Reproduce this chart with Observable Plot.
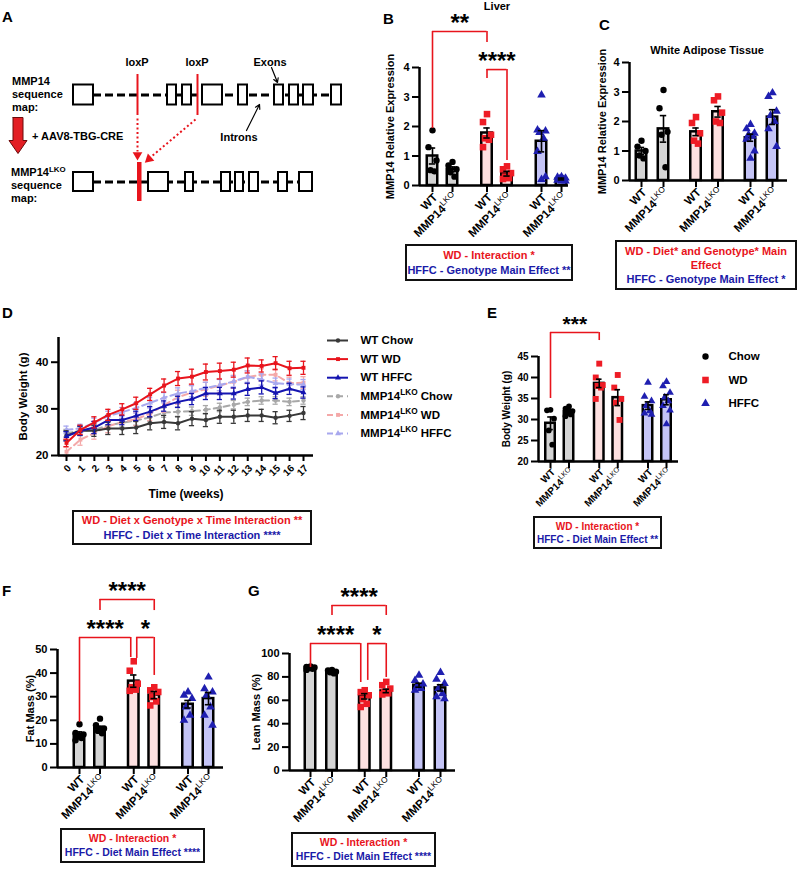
<!DOCTYPE html>
<html><head><meta charset="utf-8">
<script src="https://cdn.jsdelivr.net/npm/d3@7"></script>
<script src="https://cdn.jsdelivr.net/npm/@observablehq/plot@0.6"></script>
<style>
body{margin:0;background:#fff;}
#fig{position:relative;width:800px;height:869px;overflow:hidden;font-family:"Liberation Sans",Arial,sans-serif;font-weight:bold;color:#000;background:#fff;}
#fig svg{position:absolute;left:0;top:0;}
.lbl{position:absolute;white-space:nowrap;line-height:1;}
.box{position:absolute;border:2px solid #111;box-sizing:border-box;text-align:center;white-space:nowrap;}
</style></head><body><div id="fig"></div>
<script>
// ---------------- DATA ----------------
const groups = ["Chow", "WD", "HFFC"];
const genotypes = ["WT", "MMP14LKO"];

// B – Liver MMP14 expression (WT Chow, LKO Chow, WT WD, LKO WD, WT HFFC, LKO HFFC)
const liverMean = [1.00, 0.55, 1.78, 0.40, 1.50, 0.22];
const liverSem = [0.27, 0.08, 0.17, 0.08, 0.36, 0.03];
const liverPoints = [
  [1.87, 1.30, 0.85, 0.52, 0.48],
  [0.80, 0.68, 0.55, 0.45, 0.30],
  [2.42, 2.15, 1.72, 1.60, 1.55, 1.30],
  [0.65, 0.55, 0.42, 0.30, 0.25, 0.22],
  [3.07, 1.88, 1.85, 1.80, 1.60, 1.15, 0.30, 0.20],
  [0.30, 0.28, 0.25, 0.22, 0.20, 0.18, 0.15, 0.15]];
const liverBrackets = [
  {from: 0, to: 2, y: 5.22, yFrom: 1.93, yTo: 4.85, label: "**"},
  {from: 2, to: 3, y: 3.93, yFrom: 3.63, yTo: 0.85, label: "****"}];

// C – White adipose tissue MMP14 expression
const watMean = [1.00, 1.75, 1.65, 2.33, 1.45, 2.15];
const watSem = [0.12, 0.45, 0.13, 0.18, 0.12, 0.25];
const watPoints = [
  [1.35, 1.15, 1.00, 0.85, 0.75],
  [3.07, 2.45, 1.65, 1.55, 0.45],
  [2.15, 1.95, 1.60, 1.35, 1.25],
  [2.85, 2.72, 2.30, 2.00, 1.95],
  [1.90, 1.75, 1.60, 1.55, 1.50, 1.40, 1.00, 0.75],
  [2.97, 2.85, 2.35, 2.20, 2.00, 1.75, 1.15]];
const watBrackets = [];

// D – body weight over time
const weekTicks = [0, 1, 2, 3, 4, 5, 6, 7, 8, 9, 10, 11, 12, 13, 14, 15, 16, 17];
const wtChow = [24.3, 25.3, 25.3, 25.8, 25.8, 26.0, 26.9, 27.2, 26.9, 27.9, 27.6, 28.3, 28.3, 28.6, 28.6, 28.1, 28.5, 29.1];
const wtChowSem = [1.0, 1.0, 1.2, 1.3, 1.3, 1.3, 1.4, 1.4, 1.4, 1.5, 1.4, 1.4, 1.4, 1.3, 1.3, 1.3, 1.2, 1.4];
const wtWD = [22.7, 25.5, 27.1, 28.7, 29.9, 31.2, 33.1, 35.0, 36.5, 36.9, 37.9, 38.1, 38.4, 39.3, 39.2, 39.8, 38.7, 38.8];
const wtWDSem = [0.8, 1.0, 1.2, 1.2, 1.2, 1.3, 1.3, 1.4, 1.5, 1.6, 1.7, 1.7, 1.6, 1.6, 1.3, 1.4, 1.5, 1.4];
const wtHFFC = [24.1, 25.3, 26.0, 27.6, 27.6, 28.5, 29.4, 30.6, 31.5, 32.1, 33.3, 33.3, 33.3, 34.2, 34.6, 33.4, 34.3, 33.5];
const wtHFFCSem = [1.0, 1.0, 1.3, 1.0, 1.0, 1.0, 1.1, 1.1, 1.2, 1.2, 1.3, 1.3, 1.2, 1.3, 1.4, 1.2, 1.2, 1.2];
const lkoChow = [24.8, 25.3, 25.5, 26.5, 27.0, 27.5, 28.2, 29.2, 29.4, 29.5, 29.8, 30.3, 30.9, 31.5, 31.8, 31.8, 31.5, 31.8];
const lkoChowSem = [0.8, 0.8, 0.9, 0.9, 0.9, 1.0, 1.0, 1.0, 1.0, 0.9, 0.9, 0.9, 0.9, 0.8, 0.8, 0.8, 0.8, 0.8];
const lkoWD = [20.8, 23.4, 24.8, 26.3, 27.2, 27.8, 29.0, 30.8, 32.5, 33.5, 34.2, 35.0, 35.8, 36.8, 37.3, 37.3, 35.5, 35.6];
const lkoWDSem = [1.0, 1.2, 1.3, 1.4, 1.4, 1.4, 1.5, 1.5, 1.5, 1.5, 1.5, 1.5, 1.4, 1.4, 1.3, 1.3, 1.3, 1.3];
const lkoHFFC = [25.5, 25.8, 27.0, 28.5, 29.3, 30.2, 31.3, 32.4, 33.3, 33.8, 34.5, 35.1, 35.9, 36.9, 36.3, 35.5, 35.3, 35.2];
const lkoHFFCSem = [0.8, 0.9, 1.0, 1.0, 1.0, 1.1, 1.1, 1.1, 1.2, 1.2, 1.2, 1.2, 1.2, 1.2, 1.2, 1.1, 1.1, 1.1];
const seriesNames = ["WT Chow", "WT WD", "WT HFFC", "MMP14LKO Chow", "MMP14LKO WD", "MMP14LKO HFFC"];
const seriesValues = [wtChow, wtWD, wtHFFC, lkoChow, lkoWD, lkoHFFC];
const seriesSems = [wtChowSem, wtWDSem, wtHFFCSem, lkoChowSem, lkoWDSem, lkoHFFCSem];

// E – final body weight
const bwMean = [29.1, 31.9, 38.6, 35.2, 33.3, 34.7];
const bwSem = [1.5, 0.4, 1.0, 1.9, 0.9, 1.2];
const bwPoints = [
  [32.3, 32.2, 30.2, 27.4, 24.0],
  [33.1, 32.6, 32.0, 31.6, 31.2, 30.8],
  [43.3, 40.0, 38.2, 38.0, 37.6, 34.9],
  [40.6, 37.6, 34.9, 34.0, 29.9],
  [38.8, 35.5, 34.4, 33.3, 32.0, 31.5, 31.2],
  [39.0, 38.0, 36.4, 35.3, 34.4, 33.3, 32.2, 28.9]];
const bwBrackets = [{from: 0, to: 2, y: 50.7, yFrom: 35.0, yTo: 48.8, label: "***"}];

// F – fat mass
const fatMean = [14.1, 16.5, 36.6, 30.7, 26.8, 29.2];
const fatSem = [1.0, 1.0, 2.6, 1.5, 1.6, 2.6];
const fatPoints = [
  [18.3, 14.6, 14.0, 13.0, 12.5, 11.5],
  [20.7, 17.9, 16.5, 15.5, 14.5],
  [45.0, 41.0, 35.5, 34.0, 33.0, 32.5],
  [34.0, 32.7, 32.0, 29.9, 28.0, 26.3],
  [32.0, 30.6, 29.2, 25.6, 22.1, 20.0],
  [38.3, 33.4, 32.0, 30.6, 25.6, 22.1, 17.9]];
const fatBrackets = [
  {from: 1, to: 3, y: 71.2, yFrom: 66.5, yTo: 66.5, label: "****"},
  {from: 0, to: 2, y: 55.1, yFrom: 19.1, yTo: 46.6, label: "****", shiftTo: -3},
  {from: 2, to: 3, y: 55.1, yFrom: 46.2, yTo: 39.0, label: "*", shiftFrom: 3}];

// G – lean mass
const leanMean = [87.7, 84.3, 63.4, 68.0, 72.9, 70.6];
const leanSem = [0.6, 0.6, 2.3, 1.5, 1.7, 2.7];
const leanPoints = [
  [89.0, 88.5, 88.0, 87.5, 87.0, 86.0],
  [86.0, 85.5, 84.5, 84.0, 83.0],
  [68.6, 67.0, 64.3, 61.0, 57.0, 54.3],
  [75.7, 72.9, 70.0, 67.1, 66.0, 65.0],
  [81.4, 77.0, 74.0, 72.0, 70.0, 68.6],
  [83.7, 78.0, 74.3, 70.0, 65.7, 63.0, 61.4]];
const leanBrackets = [
  {from: 1, to: 3, y: 141, yFrom: 132.5, yTo: 132.5, label: "****"},
  {from: 0, to: 2, y: 108.5, yFrom: 88, yTo: 75.2, label: "****", shiftTo: -4},
  {from: 2, to: 3, y: 108.5, yFrom: 77, yTo: 79.5, label: "*", shiftFrom: 3}];

// statistics boxes
const statB = [["WD", "WD - Interaction *"], ["HFFC", "HFFC - Genotype Main Effect **"]];
const statC = [["WD", "WD - Diet* and Genotype* Main"], ["WD", "Effect"], ["HFFC", "HFFC - Genotype Main Effect *"]];
const statD = [["WD", "WD - Diet x Genotype x Time Interaction **"], ["HFFC", "HFFC - Diet x Time Interaction ****"]];
const statE = [["WD", "WD - Interaction *"], ["HFFC", "HFFC - Diet Main Effect **"]];
const statF = [["WD", "WD - Interaction *"], ["HFFC", "HFFC - Diet Main Effect ****"]];
const statG = [["WD", "WD - Interaction *"], ["HFFC", "HFFC - Diet Main Effect ****"]];

// A – gene map schematic (map coordinates)
const exonsTop = [[73, 93], [167, 176], [182, 191], [202, 222], [238, 247], [274, 283], [289, 298], [303, 313], [331, 341]];
const exonsLKO = [[73, 93], [148, 168], [185, 193], [221, 230], [235, 243], [249, 258], [278, 287], [299, 312]];
const loxPSites = [137, 197];

// ---------------- STYLE ----------------
const FONT = '"Liberation Sans", Arial, sans-serif';
const RED = "#e8141c", BLUE = "#1a1aa8";
const textColor = {WD: RED, HFFC: BLUE};
const barFill = {Chow: "#d4d4d4", WD: "#fde0e0", HFFC: "#c4c4f6"};
const dotFill = {Chow: "#000000", WD: "#ee1c25", HFFC: "#1f1fb0"};
const dotSymbol = {Chow: "circle", WD: "square", HFFC: "triangle"};
const dotR = {Chow: 3.2, WD: 3.7, HFFC: 3.2};
const seriesStyle = [
  {stroke: "#383838", symbol: "circle", dash: null},
  {stroke: "#e8141c", symbol: "square", dash: null},
  {stroke: "#1414b0", symbol: "triangle", dash: null},
  {stroke: "#a8a8a8", symbol: "circle", dash: "6,4"},
  {stroke: "#f4a8a8", symbol: "square", dash: "6,4"},
  {stroke: "#a8a8ee", symbol: "triangle", dash: "6,4"}];
const svgStyle = {background: "transparent", fontFamily: FONT, fontWeight: "bold", fontSize: "11px", overflow: "visible"};

const fig = document.getElementById("fig");

function sup(svg, supWeight) {
  d3.select(svg).selectAll("text").each(function () {
    if (this.childElementCount) return;
    const m = this.textContent.match(/^(.*MMP14)LKO(.*)$/);
    if (!m) return;
    const fs = parseFloat(getComputedStyle(this).fontSize) || 11;
    const s = d3.select(this).text(null);
    s.append("tspan").text(m[1]);
    s.append("tspan").attr("dy", -0.42 * fs).attr("font-size", 0.72 * fs).attr("font-weight", supWeight).text("LKO");
    if (m[2]) s.append("tspan").attr("dy", 0.42 * fs).text(m[2]);
  });
}
function place(svg, supWeight = "normal") { fig.appendChild(svg); sup(svg, supWeight); }

function pagePlot(L, xdom, ydom, marks) {
  return Plot.plot({
    width: 800, height: 869,
    marginLeft: L.axisX, marginRight: 800 - L.xEnd, marginTop: L.top, marginBottom: 869 - L.base,
    x: {domain: xdom}, y: {domain: ydom},
    style: svgStyle, marks
  });
}
const intFmt = d => String(d);

// ---------------- BAR PANELS ----------------
function barPanel(L, mean, sem, points, brackets) {
  const G = ((L.x5 - L.x0) / L.u - 1) / 2;
  const pos = i => Math.floor(i / 2) * G + (i % 2);
  const bars = mean.map((m, i) => ({group: groups[Math.floor(i / 2)], geno: genotypes[i % 2], pos: pos(i), mean: m, sem: sem[i]}));
  const hw = L.barW / 2 / L.u, cap = L.cap / L.u;
  const jit = [0, -1, 1, -0.5, 0.5, -1, 1, 0];
  const pts = points.flatMap((arr, i) => arr.map((v, j) => ({pos: bars[i].pos + jit[j % jit.length] * L.jit / L.u, v, group: bars[i].group})));
  const xmin = (L.axisX - L.x0) / L.u, xmax = (L.xEnd - L.x0) / L.u;
  const bk = brackets.map(b => ({...b, a: pos(b.from) + (b.shiftFrom || 0) / L.u, c: pos(b.to) + (b.shiftTo || 0) / L.u}));
  const marks = [
    Plot.rect(bars, {x1: d => d.pos - hw, x2: d => d.pos + hw, y1: () => L.ymin, y2: "mean", fill: d => barFill[d.group], stroke: "#000", strokeWidth: 2.5}),
    ...groups.map(g => Plot.dot(pts.filter(p => p.group === g), {x: "pos", y: "v", fill: dotFill[g], symbol: dotSymbol[g], r: dotR[g] * L.rs, stroke: "none"})),
    Plot.ruleX(bars, {x: "pos", y1: d => d.mean - d.sem, y2: d => d.mean + d.sem, stroke: "#000", strokeWidth: 1.6}),
    Plot.ruleY(bars, {y: d => d.mean + d.sem, x1: d => d.pos - cap, x2: d => d.pos + cap, stroke: "#000", strokeWidth: 1.6}),
    Plot.ruleY(bars, {y: d => d.mean - d.sem, x1: d => d.pos - cap, x2: d => d.pos + cap, stroke: "#000", strokeWidth: 1.6}),
    Plot.ruleX([xmin], {y1: () => L.ymin, y2: () => L.ymax, strokeWidth: 2.5}),
    Plot.ruleY([L.ymin], {x1: () => xmin, x2: () => xmax, strokeWidth: 2.5}),
    Plot.axisY({ticks: L.ticks, tickSize: 7, tickPadding: 3, strokeWidth: 2, fontSize: L.tickFont, tickFormat: intFmt, label: null}),
    Plot.axisX({ticks: bars.map(d => d.pos), tickSize: 7, strokeWidth: 2, tickFormat: () => "", label: null}),
    Plot.text(bars, {x: "pos", y: () => L.ymin, text: "geno", rotate: -45, textAnchor: "end", dx: 3, dy: L.labDy, fontSize: L.labFont}),
    Plot.text([L.ylabel], {frameAnchor: "left", textAnchor: "middle", rotate: -90, dx: L.ylabelX - L.axisX, fontSize: L.ylabelFont, text: d => d}),
    Plot.ruleY(bk, {y: "y", x1: "a", x2: "c", stroke: RED, strokeWidth: 1.6}),
    Plot.ruleX(bk, {x: "a", y1: "yFrom", y2: "y", stroke: RED, strokeWidth: 1.6}),
    Plot.ruleX(bk, {x: "c", y1: "yTo", y2: "y", stroke: RED, strokeWidth: 1.6}),
    Plot.text(bk, {x: d => (d.a + d.c) / 2, y: "y", text: "label", fontSize: L.starFont, dy: -8})
  ];
  return pagePlot(L, [xmin, xmax], [L.ymin, L.ymax], marks);
}

const common = {cap: 3.2, jit: 4, tickFont: 11, labFont: 11.5, labDy: 10, ylabelFont: 11, starFont: 24, rs: 1, barW: 10.5};
place(barPanel({...common, axisX: 419, x0: 432, x5: 561, xEnd: 568, u: 20, top: 67, base: 185, ymin: 0, ymax: 4, ticks: [0, 1, 2, 3, 4], ylabel: "MMP14 Relative Expression", ylabelX: 390}, liverMean, liverSem, liverPoints, liverBrackets));
place(barPanel({...common, axisX: 629, x0: 641, x5: 772, xEnd: 787, u: 22, top: 62, base: 180, ymin: 0, ymax: 4, ticks: [0, 1, 2, 3, 4], ylabel: "MMP14 Relative Expression", ylabelX: 602}, watMean, watSem, watPoints, watBrackets));
place(barPanel({...common, axisX: 538, x0: 550, x5: 666, xEnd: 678, u: 18.5, top: 356, base: 461, ymin: 20, ymax: 45, ticks: [20, 25, 30, 35, 40, 45], barW: 9.5, cap: 2.8, jit: 3.5, tickFont: 10, labFont: 10, labDy: 9, ylabel: "Body Weight (g)", ylabelX: 506.5, ylabelFont: 10, starFont: 21, rs: 0.9}, bwMean, bwSem, bwPoints, bwBrackets));
place(barPanel({...common, axisX: 57, x0: 79, x5: 208, xEnd: 223, u: 20.5, top: 649, base: 767, ymin: 0, ymax: 50, ticks: [0, 10, 20, 30, 40, 50], ylabel: "Fat Mass (%)", ylabelX: 29.5}, fatMean, fatSem, fatPoints, fatBrackets));
place(barPanel({...common, axisX: 289, x0: 310, x5: 440, xEnd: 455, u: 21.5, top: 653, base: 770, ymin: 0, ymax: 100, ticks: [0, 20, 40, 60, 80, 100], ylabel: "Lean Mass (%)", ylabelX: 256}, leanMean, leanSem, leanPoints, leanBrackets));

// ---------------- PANEL D ----------------
(function () {
  const L = {axisX: 58, x0: 66, xLast: 303, xEnd: 313, top: 337, base: 455, ymin: 20, ymax: 45.3};
  const last = weekTicks[weekTicks.length - 1];
  const pw = (L.xLast - L.x0) / last;
  const xmin = (L.axisX - L.x0) / pw, xmax = last + (L.xEnd - L.xLast) / pw;
  const capW = 2.6 / pw;
  const order = [3, 4, 5, 0, 2, 1];
  const marks = [];
  order.forEach(s => {
    const st = seriesStyle[s];
    const rows = weekTicks.map((w, i) => ({week: w, v: seriesValues[s][i], sem: seriesSems[s][i]}));
    marks.push(
      Plot.ruleX(rows, {x: "week", y1: d => d.v - d.sem, y2: d => d.v + d.sem, stroke: st.stroke, strokeWidth: 1.3}),
      Plot.ruleY(rows, {y: d => d.v + d.sem, x1: d => d.week - capW, x2: d => d.week + capW, stroke: st.stroke, strokeWidth: 1.3}),
      Plot.ruleY(rows, {y: d => d.v - d.sem, x1: d => d.week - capW, x2: d => d.week + capW, stroke: st.stroke, strokeWidth: 1.3}),
      Plot.line(rows, {x: "week", y: "v", stroke: st.stroke, strokeWidth: 2, strokeDasharray: st.dash || undefined}),
      Plot.dot(rows, {x: "week", y: "v", fill: st.stroke, symbol: st.symbol, r: 2.2, stroke: "none"})
    );
  });
  marks.push(
    Plot.ruleX([xmin], {y1: () => L.ymin, y2: () => L.ymax, strokeWidth: 2.5}),
    Plot.ruleY([L.ymin], {x1: () => xmin, x2: () => xmax, strokeWidth: 2.5}),
    Plot.axisY({ticks: [20, 30, 40], tickSize: 7, tickPadding: 3, strokeWidth: 2, fontSize: 11.5, tickFormat: intFmt, label: null}),
    Plot.axisX({ticks: weekTicks, tickSize: 6, strokeWidth: 2, tickFormat: () => "", label: null}),
    Plot.text(weekTicks, {x: d => d, y: () => L.ymin, text: d => String(d), rotate: -45, textAnchor: "end", dx: 3, dy: 11, fontSize: 10}),
    Plot.text(["Body Weight (g)"], {frameAnchor: "left", textAnchor: "middle", rotate: -90, dx: 22.5 - L.axisX, fontSize: 11.5, text: d => d}),
    Plot.text(["Time (weeks)"], {frameAnchor: "bottom", dy: 42, fontSize: 12, text: d => d})
  );
  place(pagePlot(L, [xmin, xmax], [L.ymin, L.ymax], marks));
})();

// ---------------- ANNOTATIONS: panel A schematic + legends ----------------
(function () {
  const rows = [{y: 94.5, h: 10, start: 93, end: 341, exons: exonsTop}, {y: 181.5, h: 9.5, start: 93, end: 312, exons: exonsLKO}];
  const marks = [];
  rows.forEach(r => {
    marks.push(
      Plot.ruleY([r.y], {x1: r.start, x2: r.end, stroke: "#000", strokeWidth: 3, strokeDasharray: "8,4"}),
      Plot.rect(r.exons, {x1: d => d[0], x2: d => d[1], y1: r.y - r.h, y2: r.y + r.h, fill: "#fff", stroke: "#000", strokeWidth: 2})
    );
  });
  const arrowPoly = [[12.5, 117], [22.5, 117], [22.5, 140], [26.5, 140], [17.5, 153], [8.5, 140], [12.5, 140], [12.5, 117]];
  marks.push(
    Plot.ruleX(loxPSites, {x: d => d, y1: 74, y2: 115, stroke: RED, strokeWidth: 2}),
    Plot.rect([loxPSites[0]], {x1: d => d, x2: d => d + 4.5, y1: 162, y2: 201, fill: RED}),
    Plot.link([[loxPSites[0], 118, loxPSites[0], 151], [loxPSites[1] - 2, 119, 151, 156]], {x1: d => d[0], y1: d => d[1], x2: d => d[2], y2: d => d[3], stroke: RED, strokeWidth: 2, strokeDasharray: "2,2.5"}),
    Plot.dot([[loxPSites[0], 154.5, 180], [148.5, 158.5, 228.5]], {x: d => d[0], y: d => d[1], rotate: d => d[2], symbol: "triangle", r: 3.6, fill: RED, stroke: "none"}),
    Plot.line(arrowPoly, {x: d => d[0], y: d => d[1], fill: "#e31e24", stroke: "#6a0a0a", strokeWidth: 1, curve: "linear"}),
    Plot.arrow([[271, 67, 277, 82], [246, 130, 259, 104]], {x1: d => d[0], y1: d => d[1], x2: d => d[2], y2: d => d[3], stroke: "#000", strokeWidth: 1.2, headLength: 6})
  );
  // legend D
  const lgX = 327, lgY = 340, lgStep = 18.6, lgLen = 21, lgText = 360;
  const leg = seriesNames.map((n, i) => ({n, i, y: lgY + i * lgStep}));
  leg.forEach(d => {
    const st = seriesStyle[d.i];
    marks.push(
      Plot.ruleY([d.y], {x1: lgX, x2: lgX + lgLen, stroke: st.stroke, strokeWidth: 2, strokeDasharray: st.dash || undefined}),
      Plot.dot([d.y], {x: lgX + lgLen / 2, y: v => v, symbol: st.symbol, r: 2.2, fill: st.stroke, stroke: "none"})
    );
  });
  marks.push(Plot.text(leg, {x: lgText, y: "y", text: "n", textAnchor: "start", fontSize: 11.5}));
  // legend E
  const leX = 705, leY = 356, leStep = 23.5, leText = 728;
  const legE = groups.map((g, i) => ({g, y: leY + i * leStep}));
  groups.forEach((g, i) => marks.push(Plot.dot([legE[i]], {x: leX, y: "y", symbol: dotSymbol[g], fill: dotFill[g], r: dotR[g], stroke: "none"})));
  marks.push(Plot.text(legE, {x: leText, y: "y", text: "g", textAnchor: "start", fontSize: 11.5}));
  const svg = Plot.plot({
    width: 800, height: 869, margin: 0,
    x: {domain: [0, 800], range: [0, 800], axis: null},
    y: {domain: [0, 869], range: [0, 869], axis: null},
    style: svgStyle, marks
  });
  place(svg, "bold");
})();

// ---------------- HTML TEXT ----------------
function label(html, x, y, o = {}) {
  const d = document.createElement("div");
  d.className = "lbl";
  d.innerHTML = html;
  d.style.left = x + "px"; d.style.top = y + "px";
  d.style.fontSize = (o.size || 11) + "px";
  d.style.transform = `translate(${o.center ? "-50%" : "0"}, -50%)`;
  if (o.color) d.style.color = o.color;
  fig.appendChild(d);
}
const SUP = 'MMP14<span style="font-size:0.72em;position:relative;top:-0.55em">LKO</span>';
[["A", 2, 15.5], ["B", 383, 17.5], ["C", 599, 23.5], ["D", 2, 311.5], ["E", 487, 311.5], ["F", 2, 590], ["G", 248, 590]]
  .forEach(([t, x, y]) => label(t, x, y, {size: 15}));
label("Liver", 497, 6, {center: true});
label("White Adipose Tissue", 707, 50, {center: true});
label("loxP", loxPSites[0], 62, {center: true});
label("loxP", loxPSites[1], 62, {center: true});
label("Exons", 270, 62, {center: true});
label("Introns", 239, 137, {center: true});
label("MMP14", 12, 81); label("sequence", 12, 94); label("map:", 12, 107);
label(SUP, 11, 172); label("sequence", 11, 185); label("map:", 11, 198);
label("+ AAV8-TBG-CRE", 32, 136);

function statBox(lines, x, y, w, h, size) {
  const d = document.createElement("div"); d.className = "box";
  Object.assign(d.style, {left: x + "px", top: y + "px", width: w + "px", height: h + "px", fontSize: size + "px",
    display: "flex", flexDirection: "column", justifyContent: "center", lineHeight: (size * 1.3) + "px"});
  lines.forEach(([k, t]) => { const l = document.createElement("div"); l.textContent = t; l.style.color = textColor[k]; d.appendChild(l); });
  fig.appendChild(d);
}
statBox(statB, 405, 244, 168, 37, 11);
statBox(statC, 615, 240, 182, 50, 11);
statBox(statD, 72, 510, 240, 35, 11);
statBox(statE, 533, 516, 129, 33, 10);
statBox(statF, 60, 828, 145, 35, 10.5);
statBox(statG, 291, 832, 145, 35, 10.5);
</script></body></html>
